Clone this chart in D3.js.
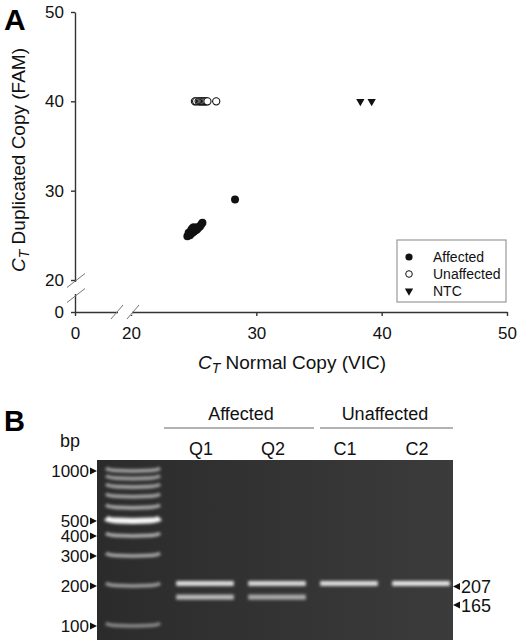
<!DOCTYPE html>
<html>
<head>
<meta charset="utf-8">
<script src="https://cdn.jsdelivr.net/npm/d3@7"></script>
<style>
body { margin: 0; background: #fff; }
svg { display: block; font-family: "Liberation Sans", Arial, sans-serif; }
.axis path, .axis line { stroke: #333; stroke-width: 1.4; }
.axis text { font-size: 17px; fill: #111; font-family: "Liberation Sans", Arial, sans-serif; }
</style>
</head>
<body>
<div id="chart"></div>
<script>
// Panel A: Ct values, VIC = normal copy, FAM = duplicated copy
var affectedVIC = [24.5, 24.6, 24.6, 24.7, 24.8, 24.8, 24.9, 24.9, 25.0, 25.0, 25.1, 25.1, 25.2, 25.2, 25.3, 25.3, 25.4, 25.5, 25.6, 25.7, 28.3];
var affectedFAM = [24.9, 25.1, 25.3, 25.0, 25.2, 25.6, 25.8, 25.3, 25.4, 25.9, 25.5, 25.7, 25.6, 25.8, 25.7, 25.9, 25.9, 26.0, 26.2, 26.4, 29.0];
var unaffectedVIC = [25.1, 25.2, 25.4, 25.5, 25.6, 25.7, 25.8, 25.9, 26.0, 26.1, 26.8];
var unaffectedFAM = [40, 40, 40, 40, 40, 40, 40, 40, 40, 40, 40];
var ntcVIC = [38.3, 39.2];
var ntcFAM = [40, 40];
var xTicks = [0, 20, 30, 40, 50];
var yTicks = [0, 20, 30, 40, 50];
var legendLabels = ["Affected", "Unaffected", "NTC"];

// Panel B: agarose gel
var laneNames = ["M", "Q1", "Q2", "C1", "C2"];
var ladderSizes = [1000, 900, 800, 700, 600, 500, 400, 300, 200, 100];
var ladderIntensity = [0.55, 0.52, 0.54, 0.56, 0.58, 0.97, 0.62, 0.58, 0.52, 0.42];
var ladderLabels = [1000, 500, 400, 300, 200, 100];
var sampleLanes = ["Q1", "Q1", "Q2", "Q2", "C1", "C2"];
var sampleSizes = [207, 165, 207, 165, 207, 207];
var sampleIntensity = [0.82, 0.66, 0.8, 0.58, 0.82, 0.86];
var productLabels = [207, 165];
var groupNames = ["Affected", "Unaffected"];
var groupLanes = [["Q1", "Q2"], ["C1", "C2"]];

var W = 520, H = 640;
var svg = d3.select("#chart").append("svg")
    .attr("width", W)
    .attr("height", H);

var defs = svg.append("defs");
defs.append("filter").attr("id", "blur")
    .attr("x", -0.1).attr("y", -2).attr("width", 1.2).attr("height", 5)
    .append("feGaussianBlur").attr("stdDeviation", 1.4);
var grad = defs.append("linearGradient").attr("id", "gel");
grad.append("stop").attr("offset", "0%").attr("stop-color", "#2b2b2b");
grad.append("stop").attr("offset", "100%").attr("stop-color", "#3b3b3b");

// ---------- Panel A ----------
// broken axes: 0..20 squeezed, 20..50 linear
var x = d3.scaleLinear().domain([0, 20, 50]).range([75, 131, 507]);
var y = d3.scaleLinear().domain([0, 20, 50]).range([312, 280, 12]);

svg.append("text")
    .attr("x", 4).attr("y", 30)
    .style("font-size", "30px").style("font-weight", "bold")
    .text("A");

svg.append("g")
    .attr("class", "axis")
    .attr("transform", "translate(0,312)")
    .call(d3.axisBottom(x).tickValues(xTicks).tickSize(4).tickSizeOuter(0).tickPadding(11));

svg.append("g")
    .attr("class", "axis")
    .attr("transform", "translate(75,0)")
    .call(d3.axisLeft(y).tickValues(yTicks).tickSize(4).tickSizeOuter(0).tickPadding(7));

// axis breaks
var xb = x(20) - 6, yb = y(20) + 8;
svg.append("rect").attr("x", xb - 7).attr("y", 309).attr("width", 14).attr("height", 6).attr("fill", "#fff");
svg.append("rect").attr("x", 72).attr("y", yb - 6).attr("width", 6).attr("height", 12).attr("fill", "#fff");
[-8, 8].forEach(function(o) {
    svg.append("line")
        .attr("x1", xb + o - 6).attr("y1", 319).attr("x2", xb + o + 6).attr("y2", 305)
        .attr("stroke", "#777").attr("stroke-width", 1);
});
[-7.5, 7.5].forEach(function(o) {
    svg.append("line")
        .attr("x1", 67).attr("y1", yb + o + 7).attr("x2", 85).attr("y2", yb + o - 7)
        .attr("stroke", "#777").attr("stroke-width", 1);
});

// axis titles
var xt = svg.append("text")
    .attr("x", 292).attr("y", 369)
    .attr("text-anchor", "middle")
    .style("font-size", "19px").style("fill", "#111");
xt.append("tspan").style("font-style", "italic").text("C");
xt.append("tspan").style("font-style", "italic").style("font-size", "14px").attr("dy", 4).text("T");
xt.append("tspan").attr("dy", -4).text(" Normal Copy (VIC)");

var yt = svg.append("text")
    .attr("transform", "translate(25,160) rotate(-90)")
    .attr("text-anchor", "middle")
    .style("font-size", "19px").style("fill", "#111");
yt.append("tspan").style("font-style", "italic").text("C");
yt.append("tspan").style("font-style", "italic").style("font-size", "14px").attr("dy", 4).text("T");
yt.append("tspan").attr("dy", -4).text(" Duplicated Copy (FAM)");

// points
var affected = affectedVIC.map(function(v, i) { return { vic: v, fam: affectedFAM[i] }; });
var unaffected = unaffectedVIC.map(function(v, i) { return { vic: v, fam: unaffectedFAM[i] }; });
var ntc = ntcVIC.map(function(v, i) { return { vic: v, fam: ntcFAM[i] }; });
var tri = d3.symbol().type(d3.symbolTriangle).size(30);

svg.append("g").selectAll("circle")
    .data(affected).enter().append("circle")
    .attr("cx", d => x(d.vic))
    .attr("cy", d => y(d.fam))
    .attr("r", 4)
    .attr("fill", "#111");

svg.append("g").selectAll("circle")
    .data(unaffected).enter().append("circle")
    .attr("cx", d => x(d.vic))
    .attr("cy", d => y(d.fam))
    .attr("r", 3.6)
    .attr("fill", "#fff")
    .attr("stroke", "#111")
    .attr("stroke-width", 1.1);

svg.append("g").selectAll("path")
    .data(ntc).enter().append("path")
    .attr("d", tri)
    .attr("transform", d => "translate(" + x(d.vic) + "," + y(d.fam) + ") rotate(180)")
    .attr("fill", "#111");

// legend
var lg = svg.append("g").attr("transform", "translate(397,240)");
lg.append("rect").attr("width", 109).attr("height", 62)
    .attr("fill", "#fff").attr("stroke", "#999").attr("stroke-width", 1.2);
var li = lg.selectAll("g.item").data(legendLabels).enter().append("g")
    .attr("transform", (d, i) => "translate(12," + (17 + i * 17) + ")");
li.each(function(d, i) {
    var g = d3.select(this);
    if (i === 0) g.append("circle").attr("r", 3.6).attr("fill", "#111");
    if (i === 1) g.append("circle").attr("r", 3.3).attr("fill", "#fff").attr("stroke", "#111");
    if (i === 2) g.append("path").attr("d", tri).attr("transform", "rotate(180)").attr("fill", "#111");
});
li.append("text").attr("x", 24).attr("y", 5)
    .style("font-size", "14px").style("fill", "#111")
    .text(d => d);

// ---------- Panel B ----------
var lane = d3.scaleBand().domain(laneNames).range([97, 457]).paddingInner(0.2).paddingOuter(0.1);
var gy = d3.scaleLog().domain([100, 200, 300, 400, 500, 1000]).range([626, 586, 556, 536, 521, 471]);
var glow = d3.scaleLinear().domain([0, 1]).range(["#3a3a3a", "#ffffff"]);
var gelX0 = 97, gelX1 = 453, gelY0 = 460;

svg.append("text")
    .attr("x", 4).attr("y", 431)
    .style("font-size", "29px").style("font-weight", "bold")
    .text("B");

svg.append("rect")
    .attr("x", gelX0).attr("y", gelY0)
    .attr("width", gelX1 - gelX0).attr("height", H - gelY0)
    .attr("fill", "url(#gel)");

var bandLine = d3.line().curve(d3.curveBasis);

// ladder bands (slight smile at the ends)
var mx0 = lane("M"), mx1 = lane("M") + lane.bandwidth();
svg.append("g").attr("filter", "url(#blur)")
    .selectAll("path").data(ladderSizes).enter().append("path")
    .attr("d", d => bandLine([[mx0 + 2, gy(d) - 3], [mx0 + 5, gy(d)], [mx1 - 5, gy(d)], [mx1 - 2, gy(d) - 3]]))
    .attr("fill", "none")
    .attr("stroke", (d, i) => glow(ladderIntensity[i]))
    .attr("stroke-width", d => d === 500 ? 6 : 3.6);

// sample bands
svg.append("g").attr("filter", "url(#blur)")
    .selectAll("rect").data(sampleSizes).enter().append("rect")
    .attr("x", (d, i) => lane(sampleLanes[i]))
    .attr("y", d => gy(d) - 2.5)
    .attr("width", lane.bandwidth())
    .attr("height", 5)
    .attr("fill", (d, i) => glow(sampleIntensity[i]));

// size markers on the left
svg.append("text")
    .attr("x", 70).attr("y", 447)
    .attr("text-anchor", "middle")
    .style("font-size", "18px").style("fill", "#111")
    .text("bp");
var lm = svg.append("g").selectAll("g").data(ladderLabels).enter().append("g");
lm.append("text")
    .attr("x", 89).attr("y", d => gy(d) + 6)
    .attr("text-anchor", "end")
    .style("font-size", "17px").style("fill", "#111")
    .text(d => d);
lm.append("path")
    .attr("d", d => "M90," + (gy(d) - 3.5) + "L97," + gy(d) + "L90," + (gy(d) + 3.5) + "Z")
    .attr("fill", "#111");

// product sizes on the right
var rm = svg.append("g").selectAll("g").data(productLabels).enter().append("g");
rm.append("path")
    .attr("d", d => { var yy = gy(d) + (d === 165 ? 8 : 3); return "M460," + (yy - 3.5) + "L453," + yy + "L460," + (yy + 3.5) + "Z"; })
    .attr("fill", "#111");
rm.append("text")
    .attr("x", 461).attr("y", d => gy(d) + (d === 165 ? 8 : 3) + 6.5)
    .style("font-size", "18px").style("fill", "#111")
    .text(d => d);

// lane names and groups
svg.append("g").selectAll("text").data(laneNames.slice(1)).enter().append("text")
    .attr("x", d => lane(d) + lane.bandwidth() / 2 - 4)
    .attr("y", 455)
    .attr("text-anchor", "middle")
    .style("font-size", "18px").style("fill", "#111")
    .text(d => d);

var gapLeft = (mx1 + lane("Q1")) / 2 - 5;
var gapMid = (lane("Q2") + lane.bandwidth() + lane("C1")) / 2;
var groupSpan = [[gapLeft, gapMid + 1], [gapMid + 7, gelX1]];
var gg = svg.append("g").selectAll("g").data(groupNames).enter().append("g");
gg.append("line")
    .attr("x1", (d, i) => groupSpan[i][0]).attr("x2", (d, i) => groupSpan[i][1])
    .attr("y1", 428).attr("y2", 428)
    .attr("stroke", "#999").attr("stroke-width", 1.5);
gg.append("text")
    .attr("x", (d, i) => (lane(groupLanes[i][0]) + lane(groupLanes[i][1]) + lane.bandwidth()) / 2)
    .attr("y", 420)
    .attr("text-anchor", "middle")
    .style("font-size", "18px").style("fill", "#111")
    .text(d => d);
</script>
</body>
</html>
